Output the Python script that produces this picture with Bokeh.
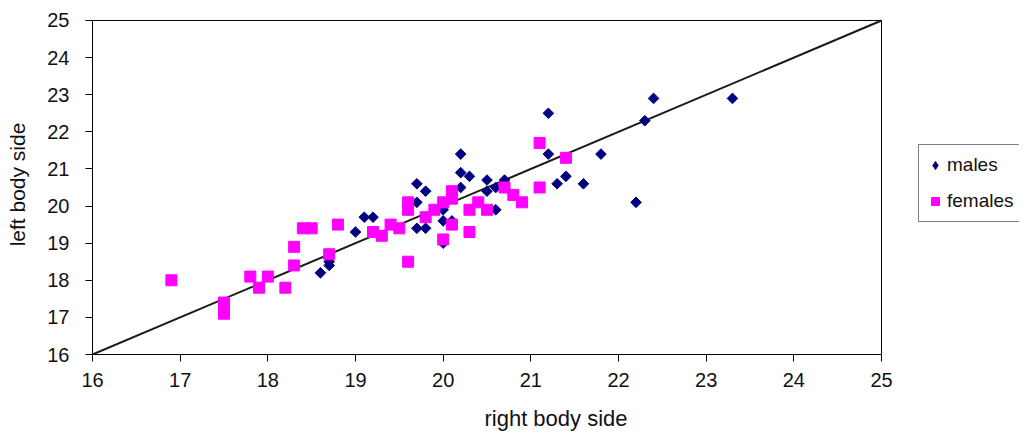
from bokeh.plotting import figure
from bokeh.models import Range1d, FixedTicker, Legend, LegendItem
from bokeh.embed import file_html
from bokeh.resources import INLINE
import numpy as np

# ---- data ----
males_right = [18.6, 18.7, 18.7, 19.0, 19.1, 19.2, 19.7, 19.8, 19.7, 19.7, 19.8,
               20.0, 20.0, 20.1, 20.0, 20.2, 20.2, 20.3, 20.2, 20.5, 20.7, 20.5,
               20.6, 20.6, 21.2, 21.2, 21.4, 21.3, 21.6, 21.8, 22.2, 22.3, 22.4, 23.3]
males_left = [18.2, 18.4, 18.5, 19.3, 19.7, 19.7, 20.6, 20.4, 20.1, 19.4, 19.4,
              19.9, 19.6, 19.6, 19.0, 21.4, 20.9, 20.8, 20.5, 20.7, 20.7, 20.4,
              20.5, 19.9, 22.5, 21.4, 20.8, 20.6, 20.6, 21.4, 20.1, 22.3, 22.9, 22.9]

females_right = [16.9, 17.5, 17.5, 17.8, 17.9, 18.0, 18.2, 18.3, 18.3, 18.4, 18.5,
                 18.7, 18.8, 19.2, 19.3, 19.4, 19.5, 19.6, 19.6, 19.6, 19.8, 19.9,
                 20.0, 20.1, 20.1, 20.1, 20.0, 20.3, 20.4, 20.5, 20.3, 20.7, 20.8,
                 20.9, 21.1, 21.1, 21.4]
females_left = [18.0, 17.4, 17.1, 18.1, 17.8, 18.1, 17.8, 18.4, 18.9, 19.4, 19.4,
                18.7, 19.5, 19.3, 19.2, 19.5, 19.4, 20.1, 19.9, 18.5, 19.7, 19.9,
                20.1, 20.4, 20.2, 19.5, 19.1, 19.9, 20.1, 19.9, 19.3, 20.5, 20.3,
                20.1, 20.5, 21.7, 21.3]

axis_min, axis_max = 16, 25
line_x = [axis_min, axis_max]
line_y = [axis_min, axis_max]
ticks = [16, 17, 18, 19, 20, 21, 22, 23, 24, 25]

FONT = "Liberation Sans"

# frame is widened to the right so the legend can sit inside it;
# the axes are bounded to 16..25 and the plot box is drawn explicitly
PX_X = 789 / 9.0     # pixels per unit in x
PX_Y = 335 / 9.0     # pixels per unit in y
W, H = 1021, 433
LEFT, TOP, BOTTOM = 92, 14, 78
frame_w = W - LEFT - 2
x_end = axis_min + frame_w / PX_X
y_end = axis_max + 6 / PX_Y

p = figure(width=W, height=H, output_backend="svg", toolbar_location=None,
           x_range=Range1d(axis_min, x_end), y_range=Range1d(axis_min, y_end),
           min_border_left=LEFT, min_border_right=2, min_border_top=TOP,
           min_border_bottom=BOTTOM)
p.grid.visible = False
p.outline_line_color = None

for ax in (p.xaxis[0], p.yaxis[0]):
    ax.ticker = FixedTicker(ticks=ticks)
    ax.bounds = (axis_min, axis_max)
    ax.minor_tick_line_color = None
    ax.major_tick_in = 0
    ax.major_tick_out = 7
    ax.axis_line_color = "black"
    ax.major_tick_line_color = "black"
    ax.major_label_text_font = FONT
    ax.major_label_text_font_size = "20px"
    ax.major_label_text_color = "#111111"
    ax.major_label_text_line_height = 0.8
    ax.axis_label_text_font = FONT
    ax.axis_label_text_font_size = "21px"
    ax.axis_label_text_font_style = "normal"
    ax.axis_label_text_color = "#111111"
    ax.axis_label_text_line_height = 0.8

p.xaxis.axis_label = "right body side"
p.yaxis.axis_label = "left body side"
p.xaxis.axis_label_text_font_size = "22px"
p.xaxis.major_label_standoff = 11
p.yaxis.major_label_standoff = 16
p.xaxis.axis_label_standoff = 16
p.yaxis.axis_label_standoff = 15

# plot box (top and right edges)
p.line(line_x, [axis_max, axis_max], line_color="black", line_width=1)
p.line([axis_max, axis_max], line_y, line_color="black", line_width=1)

p.line(line_x, line_y, line_color="#1a1a1a", line_width=2)
rm = p.scatter(males_right, males_left, marker="square", size=7.5, angle=np.pi / 4,
               fill_color="#000080", line_color="#000080")
rf = p.scatter(females_right, females_left, marker="square", size=11,
               fill_color="#FF00FF", line_color="#FF00FF")
# legend-only glyph for males (diamond), no visible data
rm_leg = p.scatter(x=[np.nan], y=[np.nan], marker="diamond", size=10,
                   fill_color="#000080", line_color="#000080")

legend = Legend(items=[LegendItem(label="males", renderers=[rm_leg]),
                       LegendItem(label="females", renderers=[rf])],
                location=(826, 132), orientation="vertical",
                label_text_font=FONT, label_text_font_size="19px",
                label_text_color="#111111", label_text_line_height=1.0,
                padding=6, spacing=8, label_height=28, glyph_height=28,
                glyph_width=20, label_standoff=2,
                border_line_color="black", border_line_width=1,
                background_fill_color="white", margin=0)
p.add_layout(legend, "center")

open("out.html", "w").write(file_html(p, INLINE))
